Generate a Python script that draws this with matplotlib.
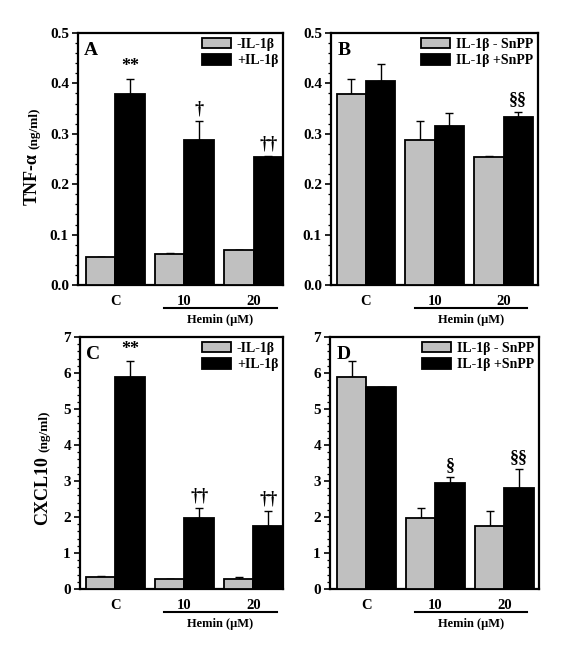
import matplotlib
matplotlib.use("Agg")
import matplotlib.pyplot as plt
import numpy as np
from matplotlib.ticker import MultipleLocator
from matplotlib.patches import Patch

plt.rcParams['font.family'] = ['Liberation Serif', 'DejaVu Serif']
plt.rcParams['font.weight'] = 'bold'

categories = ['C', '10', '20']
xgroup_label = 'Hemin (\u03bcM)'

# TNF-alpha (ng/ml)
tnf_minus = [0.056, 0.062, 0.070]
tnf_minus_err = [0.0, 0.002, 0.0]
tnf_plus = [0.378, 0.288, 0.254]
tnf_plus_err = [0.031, 0.037, 0.002]
tnf_snpp = [0.405, 0.315, 0.334]
tnf_snpp_err = [0.033, 0.027, 0.010]

# CXCL10 (ng/ml)
cxcl_minus = [0.32, 0.28, 0.28]
cxcl_minus_err = [0.04, 0.0, 0.05]
cxcl_plus = [5.90, 1.98, 1.74]
cxcl_plus_err = [0.43, 0.26, 0.43]
cxcl_snpp = [5.60, 2.95, 2.80]
cxcl_snpp_err = [0.0, 0.15, 0.52]

ann_A = ['**', '\u2020', '\u2020\u2020']
ann_B = ['', '', '\u00a7\u00a7']
ann_C = ['**', '\u2020\u2020', '\u2020\u2020']
ann_D = ['', '\u00a7', '\u00a7\u00a7']

leg_AC = ['-IL-1\u03b2', '+IL-1\u03b2']
leg_BD = ['IL-1\u03b2 - SnPP', 'IL-1\u03b2 +SnPP']

GRAY = '#C0C0C0'
W, H = 576, 648
fig = plt.figure(figsize=(W / 100, H / 100), dpi=100)


def px_axes(l, r, t, b):
    return fig.add_axes([l / W, 1 - b / H, (r - l) / W, (b - t) / H])


def panel(ax, v1, e1, v2, e2, anns, labels, letter, ymax, major, minor, xlim):
    n = len(categories)
    centers = np.arange(n) * 2.34
    bw = 1.0
    x1 = centers - 0.5
    x2 = centers + 0.5
    ax.bar(x1, v1, width=bw, color=GRAY, edgecolor='black', linewidth=1.3, zorder=3)
    ax.bar(x2, v2, width=bw, color='black', edgecolor='black', linewidth=1.3, zorder=3)
    ax.errorbar(x1, v1, yerr=[np.zeros(n), e1], fmt='none', ecolor='black',
                elinewidth=1.0, capsize=2.6, capthick=1.0, zorder=2)
    ax.errorbar(x2, v2, yerr=[np.zeros(n), e2], fmt='none', ecolor='black',
                elinewidth=1.0, capsize=2.6, capthick=1.0, zorder=2)
    for xi, yi, ei, a in zip(x2, v2, e2, anns):
        if a:
            ax.annotate(a, (xi, yi + ei), xytext=(0, 2.5), textcoords='offset points',
                        ha='center', va='bottom', fontsize=13, fontweight='bold')
    ax.set_xlim(*xlim)
    ax.set_ylim(0, ymax)
    ax.yaxis.set_major_locator(MultipleLocator(major))
    ax.yaxis.set_minor_locator(MultipleLocator(minor))
    if major < 1:
        ax.yaxis.set_major_formatter(matplotlib.ticker.FormatStrFormatter('%.1f'))
    else:
        ax.yaxis.set_major_formatter(matplotlib.ticker.FormatStrFormatter('%d'))
    ax.tick_params(axis='y', which='major', direction='out', length=4.5, width=1.2,
                   labelsize=11, pad=2)
    ax.tick_params(axis='y', which='minor', direction='out', length=2.5, width=0.9)
    ax.set_xticks(centers)
    ax.set_xticklabels(categories, fontsize=10.5, fontweight='bold')
    ax.tick_params(axis='x', length=0, pad=7)
    for lab in ax.get_yticklabels():
        lab.set_fontweight('bold')
    for s in ax.spines.values():
        s.set_linewidth(1.6)
    # Hemin bracket line
    ax.plot([centers[1] - 0.68, centers[2] + 0.78], [-0.09, -0.09], color='black',
            lw=1.5, transform=ax.get_xaxis_transform(), clip_on=False)
    ax.text((centers[1] + centers[2]) / 2 + 0.05, -0.14, xgroup_label, ha='center', va='center',
            fontsize=9, fontweight='bold', transform=ax.get_xaxis_transform())
    ax.text(0.03, 0.965, letter, transform=ax.transAxes, ha='left', va='top',
            fontsize=14, fontweight='bold')
    handles = [Patch(facecolor=GRAY, edgecolor='black', linewidth=1.3),
               Patch(facecolor='black', edgecolor='black', linewidth=1.3)]
    ax.legend(handles, labels, loc='upper right', bbox_to_anchor=(1.0, 1.0), frameon=False,
              prop={'size': 10, 'weight': 'bold'}, handlelength=2.1, handleheight=0.75,
              handletextpad=0.4, labelspacing=0.25, borderaxespad=0.15, borderpad=0.2)


axA = px_axes(78, 283, 33, 285)
axB = px_axes(331, 538, 33, 285)
axC = px_axes(80, 283, 337, 589)
axD = px_axes(330, 539, 337, 589)

panel(axA, tnf_minus, tnf_minus_err, tnf_plus, tnf_plus_err, ann_A, leg_AC, 'A',
      0.5, 0.1, 0.02, (-1.27, 5.68))
panel(axB, tnf_plus, tnf_plus_err, tnf_snpp, tnf_snpp_err, ann_B, leg_BD, 'B',
      0.5, 0.1, 0.02, (-1.19, 5.85))
panel(axC, cxcl_minus, cxcl_minus_err, cxcl_plus, cxcl_plus_err, ann_C, leg_AC, 'C',
      7, 1, 0.2, (-1.2, 5.68))
panel(axD, cxcl_plus, cxcl_plus_err, cxcl_snpp, cxcl_snpp_err, ann_D, leg_BD, 'D',
      7, 1, 0.2, (-1.23, 5.85))

# y labels with mixed font sizes
fig.canvas.draw()
renderer = fig.canvas.get_renderer()


def ylabel(main, unit, x_base_px, y_start_px):
    t1 = fig.text(x_base_px / W, 1 - y_start_px / H, main, rotation=90, rotation_mode='anchor',
                  ha='left', va='baseline', fontsize=13, fontweight='bold')
    fig.canvas.draw()
    bb = t1.get_window_extent(renderer)
    fig.text(x_base_px / W, (bb.y1 + 4) / H, unit, rotation=90, rotation_mode='anchor',
             ha='left', va='baseline', fontsize=9.5, fontweight='bold')


ylabel('TNF-\u03b1', '(ng/ml)', 37, 205)
ylabel('CXCL10', '(ng/ml)', 47, 525)

fig.savefig('out.png', dpi=100)
